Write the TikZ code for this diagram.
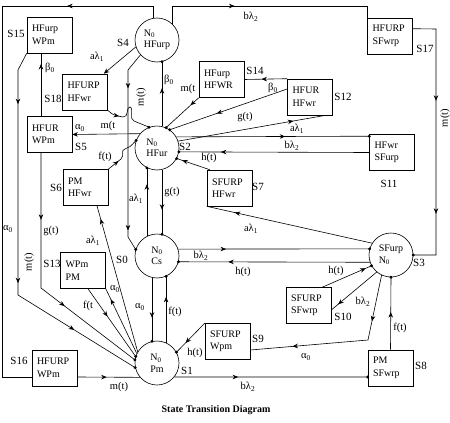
\documentclass[tikz,border=0pt]{standalone}
\usepackage{fontspec}
\setmainfont{Liberation Serif}
\usetikzlibrary{arrows.meta,decorations.markings}
\newcommand{\sbx}[1]{\textsubscript{#1}}
\newcommand{\dt}[1]{\fill (#1) circle (1.6pt);}
\begin{document}
\begin{tikzpicture}[x=1pt,y=-1pt,
  st/.style={circle,draw,line width=0.6pt,minimum size=44pt,inner sep=0pt,align=left,font=\fontsize{10}{11.5}\selectfont},
  bx/.style={draw,line width=0.6pt,minimum width=45pt,minimum height=36pt,text width=35pt,inner xsep=5pt,inner ysep=2pt,align=left,font=\fontsize{10}{12.5}\selectfont},
  lb/.style={font=\fontsize{10.5}{12}\selectfont,inner sep=0.5pt},
  sl/.style={font=\fontsize{11}{12}\selectfont,inner sep=0.5pt},
  ln/.style={line width=0.6pt},
  arr/.style={postaction={decorate,decoration={markings,mark=at position #1 with {\arrow{Stealth[length=5.5pt,width=4.5pt]}}}}},
  endarr/.style={-{Stealth[length=5.5pt,width=4.5pt]}}]
\useasboundingbox (0,0) rectangle (450,423);

% states (circles)
\node[st] (S4) at (157,40) {N\sbx{0}\\HFurp};
\node[st] (S2) at (157,148) {N\sbx{0}\\HFur};
\node[st] (S0) at (157,256) {N\sbx{0}\\Cs};
\node[st] (S1) at (157,363) {N\sbx{0}\\Pm};
\node[st] (S3) at (391,255) {SFurp\\N\sbx{0}};

% states (boxes)
\node[bx] (S15) at (49.5,35) {HFurp\\WPm};
\node[bx] (S18) at (85,92) {HFURP\\HFwr};
\node[bx] (S5) at (49.5,134.5) {HFUR\\WPm};
\node[bx] (S6) at (85.5,187.5) {PM\\HFwr};
\node[bx] (S13) at (83,270.5) {WPm\\PM};
\node[bx] (S16) at (54.5,368) {HFURP\\WPm};
\node[bx] (S14) at (221.5,79.5) {HFurp\\HFWR};
\node[bx] (S12) at (310,97) {HFUR\\HFwr};
\node[bx] (S17) at (390,36) {HFURP\\SFwrp};
\node[bx] (S11) at (392,152.5) {HFwr\\SFurp};
\node[bx] (S7) at (229.5,188) {SFURP\\HFwr};
\node[bx] (S10) at (308.5,305.5) {SFURP\\SFwrp};
\node[bx] (S9) at (227.5,341.5) {SFURP\\Wpm};
\node[bx] (S8) at (390.5,368) {PM\\SFwrp};

% state names
\node[sl] (n4) at (123,43) {S4};
\node[sl] (n2) at (185,147) {S2};
\node[sl] (n0) at (122,260) {S0};
\node[sl] (n1) at (187,371) {S1};
\node[sl] (n3) at (419,263) {S3};
\node[sl] (n15) at (16,34) {S15};
\node[sl] (n18) at (53,99) {S18};
\node[sl] (n5) at (81,147) {S5};
\node[sl] (n6) at (56,188) {S6};
\node[sl] (n13) at (52,264) {S13};
\node[sl] (n16) at (19,361) {S16};
\node[sl] (n14) at (255,71) {S14};
\node[sl] (n12) at (343,97) {S12};
\node[sl] (n17) at (425,49) {S17};
\node[sl] (n11) at (389,184) {S11};
\node[sl] (n7) at (258,187) {S7};
\node[sl] (n10) at (343,317) {S10};
\node[sl] (n9) at (258,339) {S9};
\node[sl] (n8) at (421,366) {S8};

% helper bend points
\coordinate (ytop) at (0,6);
\coordinate (cTL) at (2,6);
\coordinate (cBL) at (2,377);
\coordinate (c15a) at (18,70);
\coordinate (c15b) at (18,295);
\coordinate (c5) at (41,288);
\coordinate (c4a) at (128,70);
\coordinate (c4b) at (128,237);
\coordinate (c3) at (368,340);
\coordinate (c17a) at (436,29);
\coordinate (c17b) at (436,255);

% connectors
\draw[ln,arr=80pt] (S4.45) -- (S4.45 |- ytop) -| (S17.north west);
\draw[ln,arr=98pt] (S4.100) |- (cTL) -- (cBL) -- ([yshift=-9pt]S16.west);
\draw[ln,arr=0.47] ([yshift=-9pt]S16.east) -- (S1.-140.5);
\draw[ln,arr=0.33] (S1.-39.5) -- ([yshift=-9pt]S8.west); \dt{[yshift=-9pt]S8.west}
\draw[ln,arr=53pt,arr=232pt,arr=310pt] (S15.south west) -- (c15a) -- (c15b) -- (S1.192); \dt{S1.192}
\draw[ln,arr=67pt,arr=165pt] ([xshift=-8.5pt]S5.south) -- (c5) -- (S1.172); \dt{S1.172}
\draw[ln,arr=0.83] ([xshift=-8.5pt]S5.north) -- ([xshift=-8.5pt]S15.south);
\draw[ln,endarr] (S2.140.5) -- (S5.east);
\draw[ln,endarr] (S4.-162) -- ([xshift=-4pt]S18.north east);
\draw[ln,arr=38pt,arr=180pt] (S4.-138) -- (c4a) -- (c4b) -- (S0.163); \dt{S0.163}
\draw[ln,arr=0.59] (S2.77) -- (S4.-77); \dt{S4.-77}
\draw[ln,arr=13pt] (S18.south east) .. controls (113,115) .. (123,117) .. controls (129,118) and (126,106) .. (130,107) .. controls (134,108) and (129,120) .. (134,121) -- (S2.111); \dt{S2.111}
\draw[ln,arr=13pt] (S6.north east) -- (121,159) .. controls (125,155) and (120,150) .. (125,149) .. controls (129,148) and (131,146) .. (S2.160); \dt{S2.160}
\draw[ln,arr=11pt] (S14.south west) -- (S2.66); \dt{S2.66}
\draw[ln,arr=0.6] (S12.north west) -- (S14.east);
\draw[ln,arr=0.6] ([yshift=8pt]S12.west) -- (S2.55); \dt{S2.55}
\draw[ln,arr=0.78] (S2.18) -- ([xshift=-7pt]S12.south east);
\draw[ln,arr=0.565] (S2.30) -- ([yshift=-2pt]S11.north west); \dt{[yshift=-2pt]S11.north west}
\draw[ln,arr=0.78] (S11.west) -- (S2.-10.5); \dt{S2.-10.5}
\draw[ln,arr=0.83] ([xshift=3pt]S7.north west) -- (S2.-28); \dt{S2.-28}
\draw[ln,arr=0.76] (S0.117) -- (S2.-117); \dt{S2.-117}
\draw[ln,arr=0.62] (S2.-77) -- (S0.77); \dt{S0.77}
\draw[ln,arr=0.63] (S0.-103) -- (S1.103); \dt{S1.103}
\draw[ln,arr=0.69] (S1.66) -- (S0.-66); \dt{S0.-66}
\draw[ln,arr=0.25] (S0.18.5) -- (S3.164); \dt{S3.164}
\draw[ln,arr=0.74] (S3.-161.5) -- (S0.-15.8); \dt{S0.-15.8}
\draw[ln,arr=0.83] (S3.148) -- (S7.south west);
\draw[ln,arr=0.88] ([xshift=-9pt]S10.north east) -- (S3.-151); \dt{S3.-151}
\draw[ln,arr=0.85] (S3.-130) -- ([yshift=-4.5pt]S10.east);
\draw[ln,arr=47pt,arr=142pt] (S3.-115) -- (c3) -- ([yshift=-8.5pt]S9.east);
\draw[ln,arr=0.52] (S8.north) -- (S3.south); \dt{S3.south}
\draw[ln,arr=95pt,arr=208pt] ([yshift=-11pt]S17.north east) -- (c17a) -- (c17b) -- (S3.east); \dt{S3.east}
\draw[ln,arr=0.68] (S9.north west) -- (S1.29); \dt{S1.29}
\draw[ln,arr=0.91] (S1.150) -- ([xshift=11.5pt]S6.south);
\draw[ln,arr=0.84] (S1.155) -- (S13.south east);
\draw[ln,arr=0.41] ([xshift=5pt]S13.south) -- (S1.163); \dt{S1.163}

% connector labels
\node[lb] (l1) at (97,57) {aλ\sbx{1}};
\node[lb] (l2) at (169,80) {β\sbx{0}};
\node[lb,rotate=90] (l3) at (141,97) {m(t)};
\node[lb] (l4) at (50,68) {β\sbx{0}};
\node[lb] (l5) at (188,89) {m(t};
\node[lb] (l6) at (273,88) {β\sbx{0}};
\node[lb] (l7) at (245,117) {g(t)};
\node[lb] (l8) at (297,129) {aλ\sbx{1}};
\node[lb] (l9) at (292,146) {bλ\sbx{2}};
\node[lb] (l10) at (209,158) {h(t)};
\node[lb] (l11) at (80,128) {α\sbx{0}};
\node[lb] (l12) at (108,126) {m(t};
\node[lb] (l13) at (105,157) {f(t)};
\node[lb] (l14) at (136,199) {aλ\sbx{1}};
\node[lb] (l15) at (172,192) {g(t)};
\node[lb] (l16) at (51,231) {g(t)};
\node[lb] (l17) at (8,229) {α\sbx{0}};
\node[lb] (l18) at (93,241) {aλ\sbx{1}};
\node[lb] (l19) at (201,256) {bλ\sbx{2}};
\node[lb] (l20) at (243,272) {h(t)};
\node[lb] (l21) at (251,229) {aλ\sbx{1}};
\node[lb] (l22) at (336,271) {h(t)};
\node[lb] (l23) at (363,302) {bλ\sbx{2}};
\node[lb] (l24) at (140,307) {α\sbx{0}};
\node[lb] (l25) at (175,312) {f(t)};
\node[lb] (l26) at (115,289) {α\sbx{0}};
\node[lb] (l27) at (88,306) {f(t};
\node[lb,rotate=90] (l28) at (29,262) {m(t)};
\node[lb] (l29) at (195,353) {h(t)};
\node[lb] (l30) at (306,357) {α\sbx{0}};
\node[lb] (l31) at (400,328) {f(t)};
\node[lb] (l32) at (119,387) {m(t)};
\node[lb] (l33) at (248,387) {bλ\sbx{2}};
\node[lb] (l34) at (251,17) {bλ\sbx{2}};
\node[lb,rotate=90] (l35) at (445,118) {m(t)};

% title
\node[font=\bfseries\fontsize{10}{12}\selectfont] (title) at (216,410) {State Transition Diagram};
\end{tikzpicture}
\end{document}
